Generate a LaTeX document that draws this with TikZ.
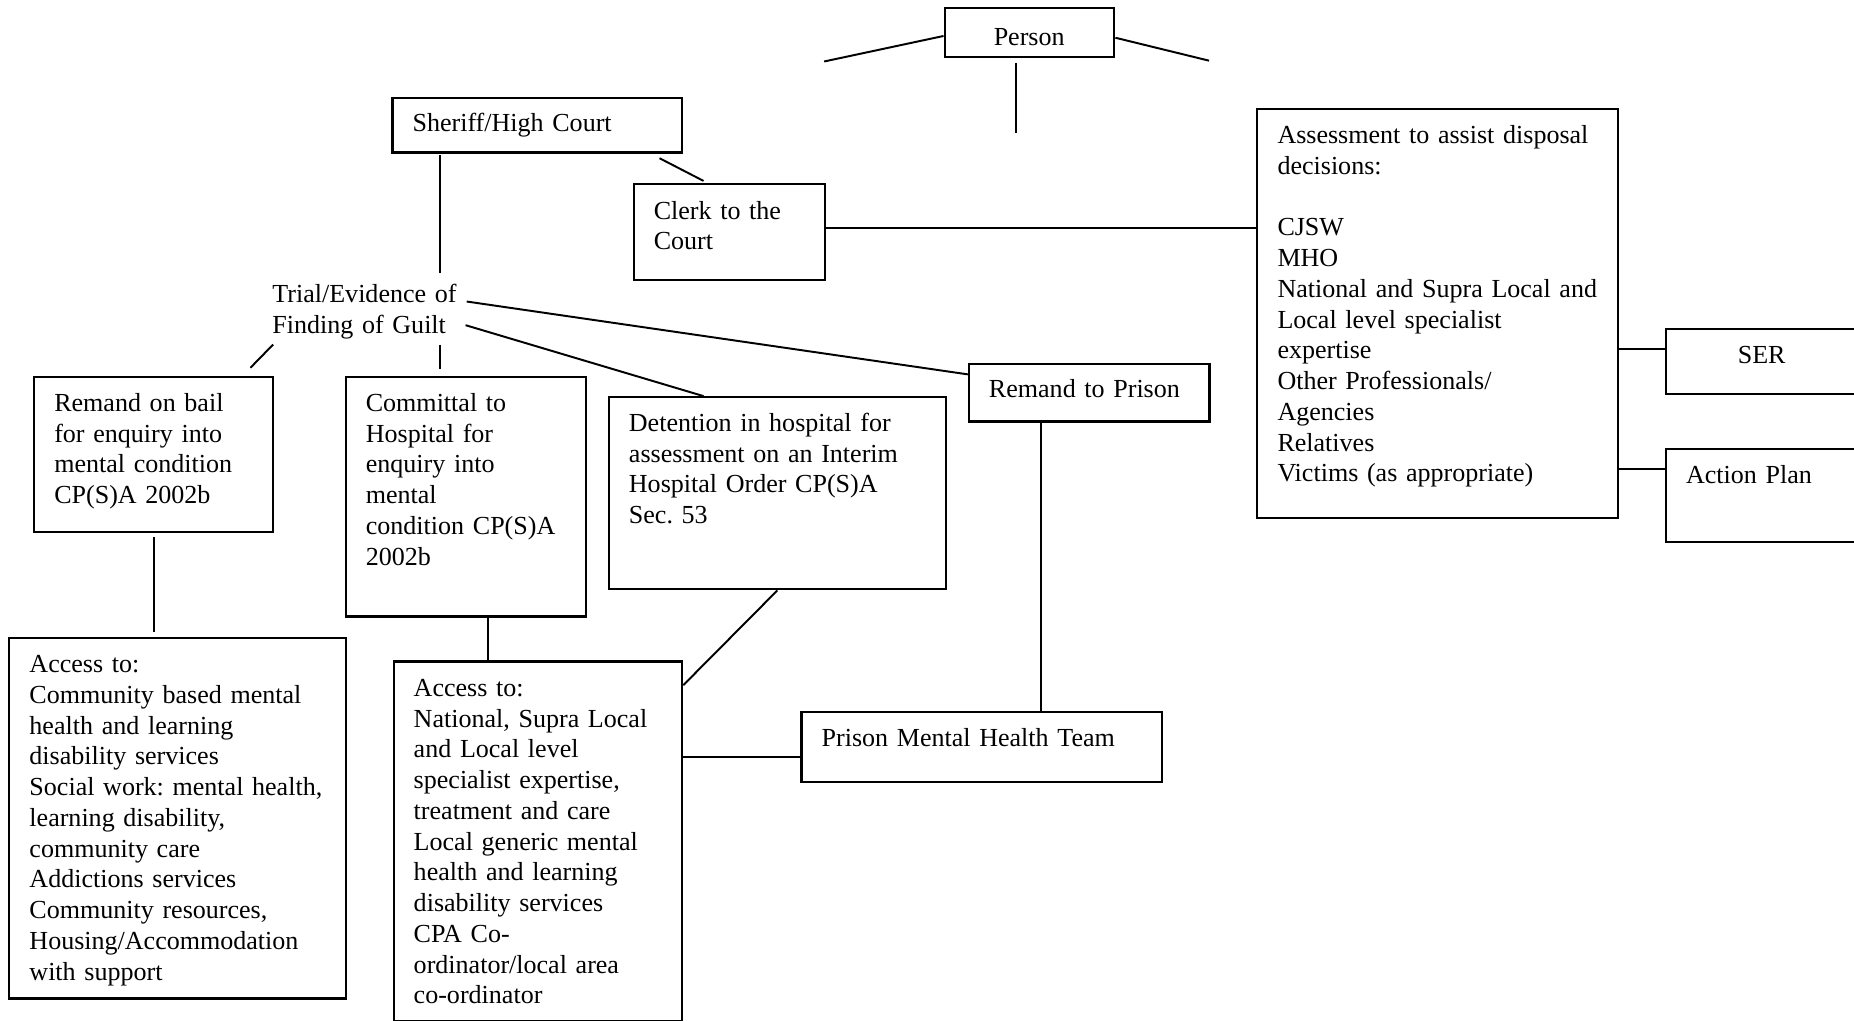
\documentclass[tikz,border=0pt]{standalone}
\usepackage{fontspec}
\setmainfont{Liberation Serif}
\usepackage{tikz}
\usetikzlibrary{calc}
\newlength\px
\setlength\px{0.545pt}

\begin{document}
\begin{tikzpicture}[x=\px, y=-\px,
  every node/.style={font=\fontsize{12pt}{14.17pt}\selectfont\frenchspacing},
  box/.style={draw, line width=1pt, anchor=north west, inner sep=0pt, align=left,
    execute at begin node={\leftskip=17\px}},
  cbox/.style={draw, line width=1pt, anchor=north west, inner sep=0pt, align=center},
  sz/.style n args={3}{text width=#1*\px, text height=#3*\px, text depth=(#2-#3)*\px},
  link/.style={line width=0.9pt}]

% Page frame
\path[use as bounding box] (0,0) rectangle (1568,863);
\clip (0,0) rectangle (1568,863);

% Person
\node[cbox, sz={143}{41}{31.7}] (person) at (798,6) {Person};
\coordinate (pl) at (697,52);
\coordinate (pr) at (1022.5,51.3);
\coordinate (pd) at (859.5,112.4);
\draw[link] ($(person.west)+(0,3)$) -- (pl);
\draw[link] ($(person.east)+(0.5,4.5)$) -- (pr);
\draw[link] ($(person.south west)+(61.5,4.3)$) -- (pd);

% Courts
\node[box, sz={245}{46}{28}] (sheriff) at (331,82) {Sheriff/High Court};
\node[box, sz={162}{81}{29.5}] (clerk) at (535,155) {Clerk to the\\Court};

% Trial (no frame)
\node[anchor=base west, inner sep=0pt, align=left, text width=162*\px,
  text height=25*\px, text depth=35*\px] (trial) at (230,256) {Trial/Evidence of\\Finding of Guilt};

% Outcomes of the trial
\node[box, sz={202}{131}{29}] (bail) at (28,318) {Remand on bail\\for enquiry into\\mental condition\\CP(S)A 2002b};
\node[box, sz={203}{202.5}{29}] (committal) at (291.5,318) {Committal to\\Hospital for\\enquiry into\\mental\\condition CP(S)A\\2002b};
\node[box, sz={285}{162.5}{29}] (detention) at (514,335) {Detention in hospital for\\assessment on an Interim\\Hospital Order CP(S)A\\Sec. 53};
\node[box, sz={203.5}{49}{28.5}] (prison) at (818.5,306.6) {Remand to Prison};

% Services
\node[box, sz={285}{305}{29.5}] (acc1) at (7,538.5) {Access to:\\Community based mental\\health and learning\\disability services\\Social work: mental health,\\learning disability,\\community care\\Addictions services\\Community resources,\\Housing/Accommodation\\with support};
\node[box, sz={244}{304}{29.5}] (acc2) at (332,558.5) {Access to:\\National, Supra Local\\and Local level\\specialist expertise,\\treatment and care\\Local generic mental\\health and learning\\disability services\\CPA Co-\\ordinator/local area\\co-ordinator};
\node[box, sz={305}{59}{28.5}] (pmht) at (677,601.5) {Prison Mental Health Team};

% Assessment side
\node[box, sz={305}{345.5}{29}] (assess) at (1062.5,91.5) {Assessment to assist disposal\\decisions:\\\mbox{}\\CJSW\\MHO\\National and Supra Local and\\Local level specialist\\expertise\\Other Professionals/\\Agencies\\Relatives\\Victims (as appropriate)};
\node[cbox, sz={162}{55}{29.6}] (ser) at (1408,277) {SER};
\node[box, sz={162}{78.5}{28.7}] (action) at (1408,379) {Action Plan};

% Court links
\coordinate (shT) at ($(sheriff.south west)+(41,1)$);
\draw[link] (shT) -- (shT |- trial.north);
\draw[link] ($(sheriff.south east)+(-20,4)$) -- ($(clerk.north west)+(60,-2)$);
\coordinate (clA) at ($(clerk.north east)+(0,38)$);
\draw[link] (clA) -- (clA -| assess.west);
\coordinate (asS) at ($(ser.north west)+(0,18)$);
\draw[link] (asS -| assess.east) -- (asS);
\coordinate (asA) at ($(action.north west)+(0,17.5)$);
\draw[link] (asA -| assess.east) -- (asA);

% Trial branches
\draw[link] ($(trial.base east)+(2,-1)$) -- ($(prison.north west)+(0,10)$);
\draw[link] ($(trial.base east)+(1,19)$) -- ($(detention.north west)+(81,0)$);
\coordinate (trC) at ($(committal.north west)+(80.5,0)$);
\draw[link, shorten >=3.2pt] (trC |- trial.south) -- (trC);
\draw[link] ($(trial.south west)+(1,0)$) -- ($(bail.north east)+(-20,-7)$);

% Down to services
\draw[link, shorten <=2pt, shorten >=2pt] (bail.south) -- (bail.south |- acc1.north);
\coordinate (cmA) at ($(committal.south west)+(121.5,0)$);
\draw[link] (cmA) -- (cmA |- acc2.north);
\draw[link] (detention.south) -- ($(acc2.north east)+(0,21)$);
\coordinate (pmA) at ($(pmht.north west)+(0,38.5)$);
\draw[link] (pmA -| acc2.east) -- (pmA);
\coordinate (prP) at ($(prison.south west)+(61.5,0)$);
\draw[link] (prP) -- (prP |- pmht.north);

\end{tikzpicture}
\end{document}
